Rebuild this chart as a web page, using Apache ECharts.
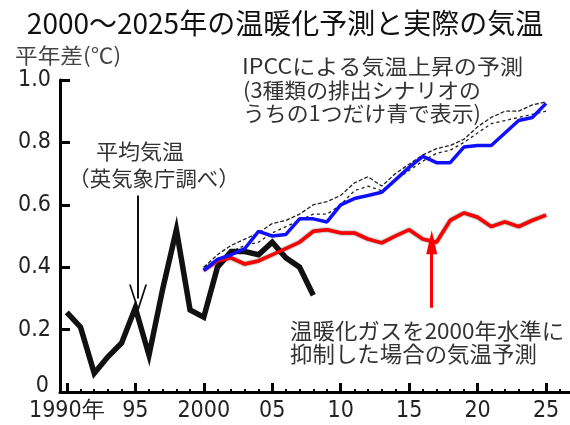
<!DOCTYPE html>
<html><head><meta charset="utf-8">
<script src="https://cdn.jsdelivr.net/npm/echarts@6/dist/echarts.min.js"></script>
<style>html,body{margin:0;padding:0;background:#fff}#c{width:570px;height:425px}</style>
</head><body><div id="c"></div>
<script>
// ---- data ----
const obsYears = [1990,1991,1992,1993,1994,1995,1996,1997,1998,1999,2000,2001,2002,2003,2004,2005,2006,2007,2008];
const obsValues = [0.255,0.208,0.06,0.113,0.157,0.27,0.118,0.33,0.52,0.263,0.24,0.40,0.45,0.45,0.44,0.48,0.43,0.40,0.31];

const projYears = [2000,2001,2002,2003,2004,2005,2006,2007,2008,2009,2010,2011,2012,2013,2014,2015,2016,2017,2018,2019,2020,2021,2022,2023,2024,2025];
const ipccBlue = [0.39,0.425,0.44,0.46,0.515,0.50,0.505,0.555,0.555,0.545,0.60,0.62,0.63,0.64,0.68,0.72,0.755,0.735,0.735,0.785,0.79,0.79,0.83,0.87,0.88,0.925];
const ipccOtherA = [0.40,0.44,0.47,0.49,0.51,0.54,0.55,0.57,0.60,0.61,0.63,0.67,0.69,0.66,0.70,0.73,0.76,0.78,0.79,0.81,0.85,0.88,0.90,0.90,0.92,0.93];
const ipccOtherB = [0.40,0.42,0.45,0.47,0.48,0.51,0.53,0.55,0.57,0.57,0.60,0.645,0.66,0.645,0.68,0.71,0.74,0.765,0.775,0.80,0.83,0.86,0.87,0.88,0.89,0.90];
const heldAt2000 = [0.39,0.42,0.43,0.41,0.42,0.44,0.46,0.48,0.515,0.52,0.51,0.51,0.49,0.478,0.50,0.52,0.49,0.48,0.55,0.574,0.56,0.53,0.545,0.53,0.55,0.567];

const xTickYears = [1990,1995,2000,2005,2010,2015,2020,2025];
const xTickLabels = ['1990年','95','2000','05','10','15','20','25'];
const yTickValues = [0,0.2,0.4,0.6,0.8,1.0];
const yTickLabels = ['0','0.2','0.4','0.6','0.8','1.0'];

// arrow annotations (data coordinates)
const obsArrow = {year:1995.2, from:0.63, to:0.30};
const redArrow = {year:2016.65, from:0.27, to:0.48};

const titleText = '2000～2025年の温暖化予測と実際の気温';
const yUnitText = '平年差(℃)';
const obsNote = ['平均気温','（英気象庁調べ）'];
const ipccNote = ['IPCCによる気温上昇の予測','(3種類の排出シナリオの','うちの1つだけ青で表示)'];
const heldNote = ['温暖化ガスを2000年水準に','抑制した場合の気温予測'];

// ---- build ----
const pairs = (xs, ys) => xs.map((x,i)=>[x, ys[i]]);
const minorYears = [];
for (let y = 1990; y <= 2026; y++) minorYears.push(y);

const numFont = "'Liberation Sans Narrow','Arial Narrow','DejaVu Sans Condensed',sans-serif";
const jpFont = "'Noto Sans CJK JP',sans-serif";
const XMIN = 1989.5, XMAX = 2026.75;

const chart = echarts.init(document.getElementById('c'));
const txt = (text, x, y, size, align, color, sx) => ({
  type:'text', x: x, y: y, scaleX: sx||1,
  style:{text:text, fill:color||'#333', font: size+'px '+jpFont, textAlign:align||'left', textVerticalAlign:'middle'}
});

chart.setOption({
  animation:false,
  backgroundColor:'#fff',
  title:{text:titleText, left:'center', top:4,
    textStyle:{fontFamily:jpFont, fontSize:28, fontWeight:'normal', color:'#111'}},
  grid:{left:60, right:0, top:80, bottom:33, containLabel:false},
  xAxis:[{
    type:'value', min:XMIN, max:XMAX, position:'bottom',
    axisLine:{show:true, lineStyle:{color:'#000', width:3}},
    axisTick:{show:true, inside:true, length:9, lineStyle:{color:'#000', width:3}, customValues:xTickYears},
    axisLabel:{show:true, customValues:xTickYears, margin:8, fontFamily:numFont, fontSize:23, color:'#222',
      formatter:(v)=>{const i = xTickYears.indexOf(Math.round(v)); return i>=0 ? xTickLabels[i] : '';}},
    splitLine:{show:false}
  },{
    type:'value', min:XMIN, max:XMAX, position:'bottom',
    axisLine:{show:false},
    axisTick:{show:true, inside:true, length:3, lineStyle:{color:'#000', width:2}, customValues:minorYears},
    axisLabel:{show:false}, splitLine:{show:false}
  }],
  yAxis:{
    type:'value', min:0, max:1.0, interval:0.2,
    axisLine:{show:true, lineStyle:{color:'#000', width:3}},
    axisTick:{show:true, inside:true, length:10, lineStyle:{color:'#000', width:3}},
    axisLabel:{margin:9, fontFamily:numFont, fontSize:23, color:'#222',
      rich:{z:{fontFamily:numFont, fontSize:23, color:'#222', padding:[0,2,12,0]}},
      formatter:(v)=>{const i = yTickValues.findIndex(t=>Math.abs(t-v)<1e-6);
        if (i < 0) return ''; return i === 0 ? '{z|' + yTickLabels[i] + '}' : yTickLabels[i];}},
    splitLine:{show:false}
  },
  series:[
    {type:'line', data:pairs(projYears, ipccOtherA), symbol:'none', lineStyle:{color:'#222', width:1.3, type:[4,2]}, z:2},
    {type:'line', data:pairs(projYears, ipccOtherB), symbol:'none', lineStyle:{color:'#222', width:1.3, type:[3,3]}, z:2},
    {type:'line', data:pairs(obsYears, obsValues), symbol:'none', lineStyle:{color:'#111', width:5.5, join:'miter'}, z:3,
      markLine:{silent:true, symbol:['none','path://M0,20 L10,0 L20,20 L18,20 L10,4 L2,20 Z'], symbolSize:[18,28],
        label:{show:false}, lineStyle:{color:'#111', width:2, type:'solid'},
        data:[[{coord:[obsArrow.year, obsArrow.from]},{coord:[obsArrow.year, obsArrow.to]}]]}},
    {type:'line', data:pairs(projYears, heldAt2000), symbol:'none',
      lineStyle:{color:'#ff0000', width:3.5, shadowColor:'rgba(0,0,0,0.7)', shadowBlur:2}, z:4,
      markLine:{silent:true, symbol:['none','triangle'], symbolSize:[11,24],
        label:{show:false}, lineStyle:{color:'#ff0000', width:3, type:'solid'},
        data:[[{coord:[redArrow.year, redArrow.from]},{coord:[redArrow.year, redArrow.to]}]]}},
    {type:'line', data:pairs(projYears, ipccBlue), symbol:'none', lineStyle:{color:'#1010ff', width:3.5}, z:5}
  ],
  graphic:[
    txt(yUnitText, 15, 55, 21, 'left', '#444', 1.08),
    txt(obsNote[0], 140, 151, 21, 'center', '#333', 1.05),
    txt(obsNote[1], 154, 178, 21, 'center', '#333', 1.02),
    txt(ipccNote[0], 242, 66, 21, 'left', '#333', 1.1),
    txt(ipccNote[1], 243, 90, 21, 'left', '#333', 1.04),
    txt(ipccNote[2], 243, 113, 21, 'left', '#333', 1.04),
    txt(heldNote[0], 290, 331, 22, 'left', '#333', 1.02),
    txt(heldNote[1], 290, 354, 22, 'left', '#333', 1.02)
  ]
});
</script></body></html>
